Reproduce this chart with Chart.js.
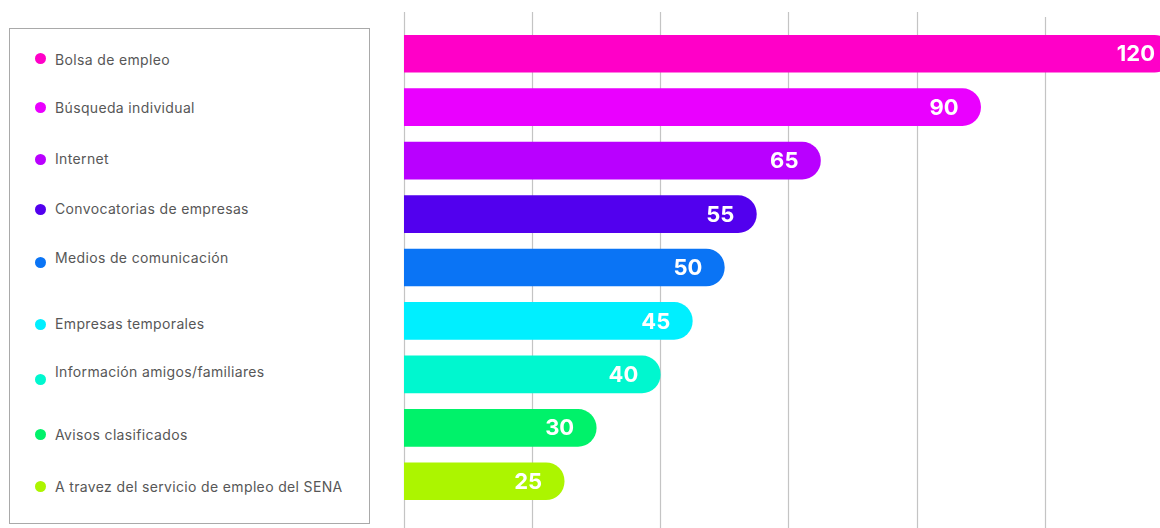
<!DOCTYPE html>
<html lang="es">
<head>
<meta charset="utf-8">
<title>Fuentes de empleo</title>
<script src="https://cdn.jsdelivr.net/npm/chart.js@4.4.1/dist/chart.umd.min.js"></script>
<style>
  html, body { margin: 0; padding: 0; background: #ffffff; }
  #wrap { position: relative; width: 1160px; height: 528px; overflow: hidden; }
  #chart { position: absolute; left: 0; top: 0; }
  #legend {
    position: absolute; left: 9px; top: 28px; width: 361px; height: 496px;
    border: 1.5px solid #a9a9a9; box-sizing: border-box; background: #fff;
  }
  .item {
    position: absolute; left: 0; height: 20px; display: flex; align-items: center;
    font-family: "Inter", "Lato", sans-serif; font-size: 14px; color: #575757;
    letter-spacing: 0.35px; white-space: nowrap;
  }
  .dot { position: absolute; left: 24.5px; width: 11px; height: 11px; border-radius: 50%; }
  .txt { position: absolute; left: 45px; }
</style>
</head>
<body>
<div id="wrap">
  <canvas id="chart" width="1160" height="528"></canvas>
  <div id="legend"></div>
</div>
<script>
// Categories and counts
const categories = [
  'Bolsa de empleo',
  'Búsqueda individual',
  'Internet',
  'Convocatorias de empresas',
  'Medios de comunicación',
  'Empresas temporales',
  'Información amigos/familiares',
  'Avisos clasificados',
  'A travez del servicio de empleo del SENA'
];
const counts = [120, 90, 65, 55, 50, 45, 40, 30, 25];
const barColors = [
  '#ff00c8', '#ea00ff', '#b900ff', '#5200ee', '#0a74f5',
  '#00efff', '#00f7cf', '#00f26a', '#acf500'
];

// Legend rows (vertical centres of text and dot, relative to the page)
const legendTextY = [58, 106, 157, 207, 256, 322, 370, 433, 485];
const legendDotY  = [57, 106, 158, 208, 261, 323, 378, 433, 485];

const legend = document.getElementById('legend');
categories.forEach((name, i) => {
  const dot = document.createElement('div');
  dot.className = 'dot';
  dot.style.background = barColors[i];
  dot.style.top = (legendDotY[i] - 28 - 5.5) + 'px';
  legend.appendChild(dot);
  const t = document.createElement('div');
  t.className = 'item';
  t.style.top = (legendTextY[i] - 28 - 10) + 'px';
  const s = document.createElement('span');
  s.className = 'txt';
  s.textContent = name;
  t.appendChild(s);
  legend.appendChild(t);
});

// Vertical guide lines spanning the full height, placed by the x scale
const guideLines = {
  id: 'guideLines',
  beforeDatasetsDraw(chart) {
    const { ctx } = chart;
    const x = chart.scales.x;
    ctx.save();
    ctx.strokeStyle = '#c4c4c4';
    ctx.lineWidth = 1.2;
    for (let v = 0; v <= x.max; v += 20) {
      const px = Math.round(x.getPixelForValue(v)) + 0.5;
      ctx.beginPath();
      ctx.moveTo(px, v === 100 ? 17 : 12);
      ctx.lineTo(px, 528);
      ctx.stroke();
    }
    ctx.restore();
  }
};

// Value labels inside the bar ends
const valueLabels = {
  id: 'valueLabels',
  afterDatasetsDraw(chart) {
    const { ctx, chartArea } = chart;
    const meta = chart.getDatasetMeta(0);
    ctx.save();
    ctx.font = '700 22px "Inter", "Lato", sans-serif';
    ctx.fillStyle = '#ffffff';
    ctx.textAlign = 'right';
    ctx.textBaseline = 'middle';
    meta.data.forEach((bar, i) => {
      const right = bar.x > chartArea.right ? chartArea.right - 5 : bar.x - 22;
      ctx.fillText(String(counts[i]), right, bar.y + 1);
    });
    ctx.restore();
  }
};

new Chart(document.getElementById('chart'), {
  type: 'bar',
  data: {
    labels: categories,
    datasets: [{
      data: counts,
      backgroundColor: barColors,
      borderWidth: 0,
      borderRadius: 19,
      borderSkipped: 'start',
      barThickness: 37
    }]
  },
  options: {
    indexAxis: 'y',
    responsive: false,
    animation: false,
    layout: { padding: { left: 404, right: 0, top: 27, bottom: 20 } },
    plugins: { legend: { display: false }, tooltip: { enabled: false } },
    scales: {
      x: {
        min: 0, max: 118,
        display: false,
        grid: { display: false }
      },
      y: {
        display: false,
        grid: { display: false }
      }
    }
  },
  plugins: [guideLines, valueLabels]
});
</script>
</body>
</html>
